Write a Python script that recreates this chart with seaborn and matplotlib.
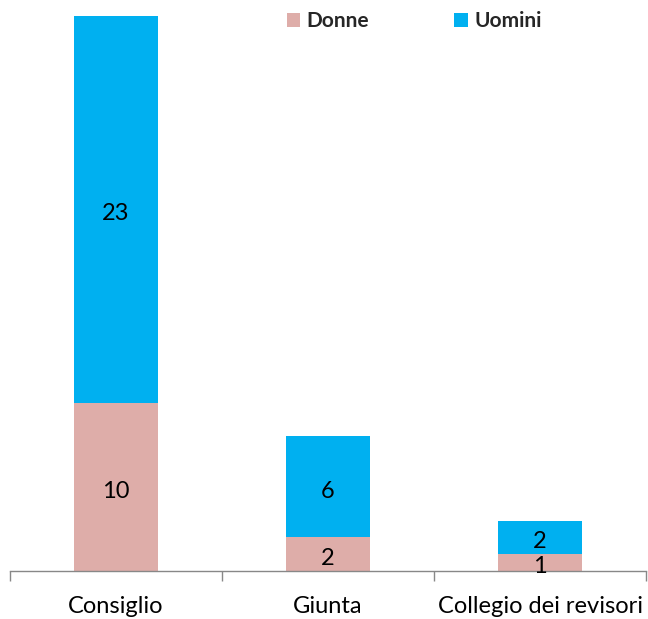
import matplotlib
matplotlib.use("Agg")
import matplotlib.pyplot as plt
import seaborn as sns
import pandas as pd

categories = ["Consiglio", "Giunta", "Collegio dei revisori"]
donne = [10, 2, 1]
uomini = [23, 6, 2]

df = pd.DataFrame({"organo": categories, "Donne": donne, "Uomini": uomini})
df["Totale"] = df["Donne"] + df["Uomini"]

sns.set_theme(style="white")
plt.rcParams["font.family"] = ["Lato", "DejaVu Sans"]

fig = plt.figure(figsize=(6.48, 6.19), dpi=100)
ax = fig.add_axes([10 / 648, 48 / 619, 636 / 648, 571 / 619])

c_donne = "#DEADA9"
c_uomini = "#00B0F0"

sns.barplot(data=df, x="organo", y="Totale", color=c_uomini, width=0.4,
            saturation=1, ax=ax, label="Uomini", linewidth=0)
sns.barplot(data=df, x="organo", y="Donne", color=c_donne, width=0.4,
            saturation=1, ax=ax, label="Donne", linewidth=0)
if ax.get_legend() is not None:
    ax.get_legend().remove()

# stacked segment for Uomini sits on top of Donne
for patch, d, u in zip(ax.containers[0], donne, uomini):
    patch.set_y(d)
    patch.set_height(u)

ax.bar_label(ax.containers[0], labels=[str(v) for v in uomini], label_type="center",
             fontsize=17, color="black", padding=-3)
ax.bar_label(ax.containers[1], labels=[str(v) for v in donne], label_type="center",
             fontsize=17, color="black", padding=-3)

ax.set_xlim(-0.5, 2.5)
ax.set_ylim(0, 33.95)
ax.set_xlabel("")
ax.set_ylabel("")
ax.set_yticks([])
ax.set_xticks(range(len(categories)))
ax.set_xticklabels(categories, fontsize=17, color="black")
ax.tick_params(axis="x", which="major", length=0, pad=18)
ax.set_xticks([-0.5, 0.5, 1.5, 2.5], minor=True)
ax.tick_params(axis="x", which="minor", bottom=True, length=7.5, width=1,
               color="#888888", direction="out")
for s in ["top", "right", "left"]:
    ax.spines[s].set_visible(False)
ax.spines["bottom"].set_color("#888888")
ax.spines["bottom"].set_linewidth(1)

handles = [ax.containers[1][0], ax.containers[0][0]]
leg = fig.legend(handles, ["Donne", "Uomini"],
                 loc="center", bbox_to_anchor=(0.639, 0.966), ncol=2, frameon=False,
                 handlelength=0.65, handleheight=0.65, handletextpad=0.3, columnspacing=4.1,
                 prop={"weight": "bold", "size": 15})

fig.savefig("out.png", dpi=100)
